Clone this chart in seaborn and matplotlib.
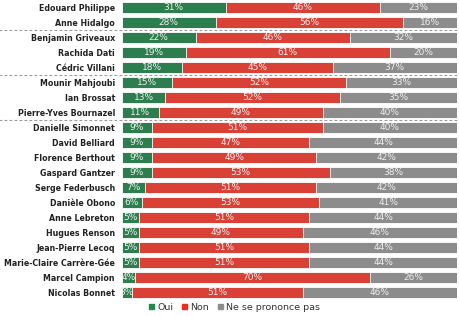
import numpy as np
import pandas as pd
import seaborn as sns
import matplotlib
matplotlib.use("Agg")
from matplotlib import pyplot as plt
from matplotlib.patches import Patch

# données du sondage
candidats = ["Edouard Philippe", "Anne Hidalgo", "Benjamin Griveaux", "Rachida Dati",
             "Cédric Villani", "Mounir Mahjoubi", "Ian Brossat", "Pierre-Yves Bournazel",
             "Danielle Simonnet", "David Belliard", "Florence Berthout", "Gaspard Gantzer",
             "Serge Federbusch", "Danièle Obono", "Anne Lebreton", "Hugues Renson",
             "Jean-Pierre Lecoq", "Marie-Claire Carrère-Gée", "Marcel Campion", "Nicolas Bonnet"]
oui = [31, 28, 22, 19, 18, 15, 13, 11, 9, 9, 9, 9, 7, 6, 5, 5, 5, 5, 4, 3]
non = [46, 56, 46, 61, 45, 52, 52, 49, 51, 47, 49, 53, 51, 53, 51, 49, 51, 51, 70, 51]
nspp = [23, 16, 32, 20, 37, 33, 35, 40, 40, 44, 42, 38, 42, 41, 44, 46, 44, 44, 26, 46]
series = ["Oui", "Non", "Ne se prononce pas"]

VERT = "#1f8b4c"
ROUGE = "#f42a1b"
GRIS = "#8c8c8c"

sns.set_style("white")
plt.rcParams['font.family'] = ['DejaVu Sans']

df = pd.DataFrame({"candidat": candidats, "oui": oui, "non": non, "nspp": nspp})
df["total"] = df["oui"] + df["non"] + df["nspp"]
df["cum_non"] = df["oui"] + df["non"]

fig = plt.figure(figsize=(4.6, 3.16), dpi=100)
ax = fig.add_axes([0.265, 0.052, 0.728, 0.948])

# barres empilées : on dessine les cumuls du plus grand au plus petit
for col, c in [("total", GRIS), ("cum_non", ROUGE), ("oui", VERT)]:
    sns.barplot(data=df, y="candidat", x=col, color=c, width=0.73, orient="h",
                edgecolor="white", linewidth=0.6, ax=ax)

# étiquettes des valeurs
for i in range(len(candidats)):
    starts = [0, oui[i], oui[i] + non[i]]
    for s, v in zip(starts, [oui[i], non[i], nspp[i]]):
        ax.text(s + v / 2, i, f"{v}%", ha="center", va="center",
                color="#eeeeee", fontsize=6.5)

# séparateurs en pointillé
for y in [1.5, 4.5, 7.5]:
    ax.axhline(y, xmin=-0.37, xmax=1.01, color="#999999", ls=(0, (2.5, 2)),
               lw=0.8, clip_on=False)

ax.set_xlim(0, 100)
ax.set_ylim(len(candidats) - 0.5, -0.5)
ax.set_xlabel("")
ax.set_ylabel("")
ax.set_xticks([])
ax.tick_params(axis="y", length=0, pad=5)
for lab in ax.get_yticklabels():
    lab.set_fontweight("bold")
    lab.set_fontsize(5.65)
    lab.set_color("#222222")
sns.despine(ax=ax, left=True, bottom=True)

handles = [Patch(color=c, label=l) for c, l in zip([VERT, ROUGE, GRIS], series)]
fig.legend(handles=handles, loc="center", bbox_to_anchor=(0.51, 0.027), ncol=3,
           frameon=False, fontsize=6.8, handlelength=0.55, handleheight=0.55,
           handletextpad=0.35, columnspacing=0.9, labelcolor="#333333")

fig.savefig("out.png", dpi=100)
